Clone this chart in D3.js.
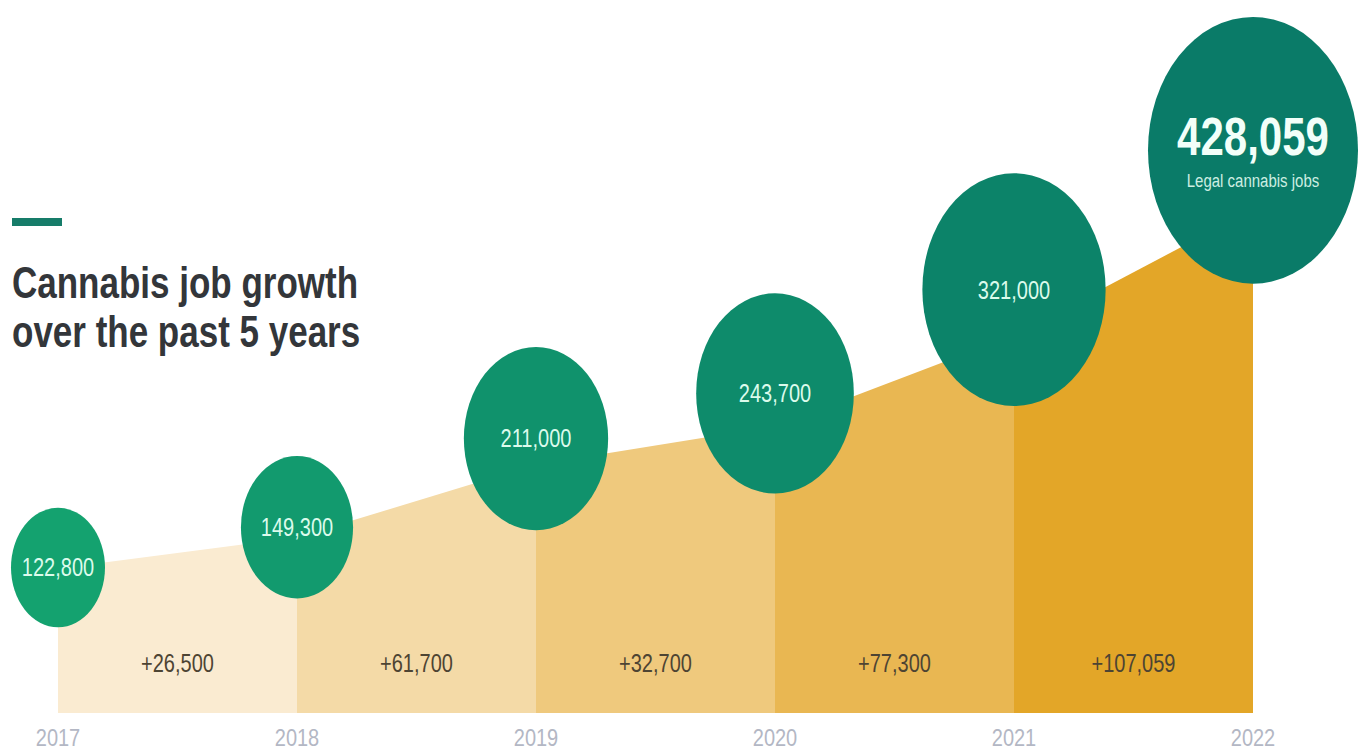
<!DOCTYPE html>
<html>
<head>
<meta charset="utf-8">
<script src="https://cdn.jsdelivr.net/npm/d3@7"></script>
<style>
  html, body { margin: 0; padding: 0; background: #fff; }
  svg { display: block; font-family: "Liberation Sans", Arial, sans-serif; }
</style>
</head>
<body>
<svg id="chart" width="1362" height="752"></svg>
<script>
// data
const years = [2017, 2018, 2019, 2020, 2021, 2022];
const jobs = [122800, 149300, 211000, 243700, 321000, 428059];
const gains = [26500, 61700, 32700, 77300, 107059];
const titleLines = ["Cannabis job growth", "over the past 5 years"];
const totalLabel = "Legal cannabis jobs";

const width = 1362, height = 752;
const stretch = 1.27; // the picture is drawn a bit tall, text included

const svg = d3.select("#chart");
const fmt = d3.format(",");

const x = d3.scaleLinear()
  .domain([2017, 2022])
  .range([58, 1253]);

const y = d3.scaleLinear()
  .domain([0, 430000])
  .range([713, 207]);

const rScale = d3.scaleLog()
  .domain([122800, 428059])
  .range([47, 105]);

const segColor = d3.scaleLinear()
  .domain([0, gains.length - 1])
  .range(["#faebd1", "#e3a628"])
  .interpolate(d3.interpolateRgb);

const bubbleColor = d3.scaleLinear()
  .domain([0, years.length - 1])
  .range(["#14a26f", "#0a7b68"])
  .interpolate(d3.interpolateRgb);

const points = years.map((yr, i) => ({year: yr, value: jobs[i]}));

// one filled trapezoid per year-to-year step
const area = d3.area()
  .x(d => x(d.year))
  .y0(y(0))
  .y1(d => y(d.value));

const segs = gains.map((g, i) => ({gain: g, pts: [points[i], points[i + 1]], i: i}));

svg.append("g")
  .selectAll("path")
  .data(segs)
  .join("path")
  .attr("d", d => area(d.pts))
  .attr("fill", d => segColor(d.i));

// gain labels in the middle of each step
svg.append("g")
  .selectAll("text")
  .data(segs)
  .join("text")
  .attr("transform", d => `translate(${(x(d.pts[0].year) + x(d.pts[1].year)) / 2},${y(0) - 50}) scale(1,${stretch})`)
  .attr("text-anchor", "middle")
  .attr("dy", "0.35em")
  .attr("font-size", 20)
  .attr("fill", "#4d4433")
  .text(d => "+" + fmt(d.gain));

// year labels under the baseline
svg.append("g")
  .selectAll("text")
  .data(years)
  .join("text")
  .attr("transform", d => `translate(${x(d)},${y(0) + 25}) scale(1,1.15)`)
  .attr("text-anchor", "middle")
  .attr("dy", "0.35em")
  .attr("font-size", 20)
  .attr("fill", "#b3b7c4")
  .text(d => d);

// bubbles
const bub = svg.append("g")
  .selectAll("g")
  .data(points)
  .join("g")
  .attr("transform", d => {
    const r = rScale(d.value);
    return `translate(${x(d.year)},${y(d.value) - (r - 46)})`;
  });

bub.append("ellipse")
  .attr("rx", d => rScale(d.value))
  .attr("ry", d => rScale(d.value) * stretch)
  .attr("fill", (d, i) => bubbleColor(i));

const last = points.length - 1;

bub.filter((d, i) => i < last)
  .append("text")
  .attr("transform", `scale(1,${stretch})`)
  .attr("text-anchor", "middle")
  .attr("dy", "0.35em")
  .attr("font-size", 20)
  .attr("fill", "#dcfbec")
  .text(d => fmt(d.value));

const big = bub.filter((d, i) => i === last);
big.append("text")
  .attr("transform", `translate(0,-14) scale(1,${stretch})`)
  .attr("text-anchor", "middle")
  .attr("dy", "0.35em")
  .attr("font-size", 42)
  .attr("font-weight", "bold")
  .attr("fill", "#f2fff9")
  .text(d => fmt(d.value));
big.append("text")
  .attr("transform", `translate(0,30) scale(1,${stretch})`)
  .attr("text-anchor", "middle")
  .attr("dy", "0.35em")
  .attr("font-size", 15)
  .attr("fill", "#cdeee2")
  .text(totalLabel);

// title block
svg.append("rect")
  .attr("x", 12).attr("y", 218)
  .attr("width", 50).attr("height", 8)
  .attr("fill", "#167c69");

svg.append("g")
  .selectAll("text")
  .data(titleLines)
  .join("text")
  .attr("transform", (d, i) => `translate(12,${298 + i * 49}) scale(1,${stretch})`)
  .attr("font-size", 35)
  .attr("font-weight", "bold")
  .attr("fill", "#33363a")
  .text(d => d);
</script>
</body>
</html>
